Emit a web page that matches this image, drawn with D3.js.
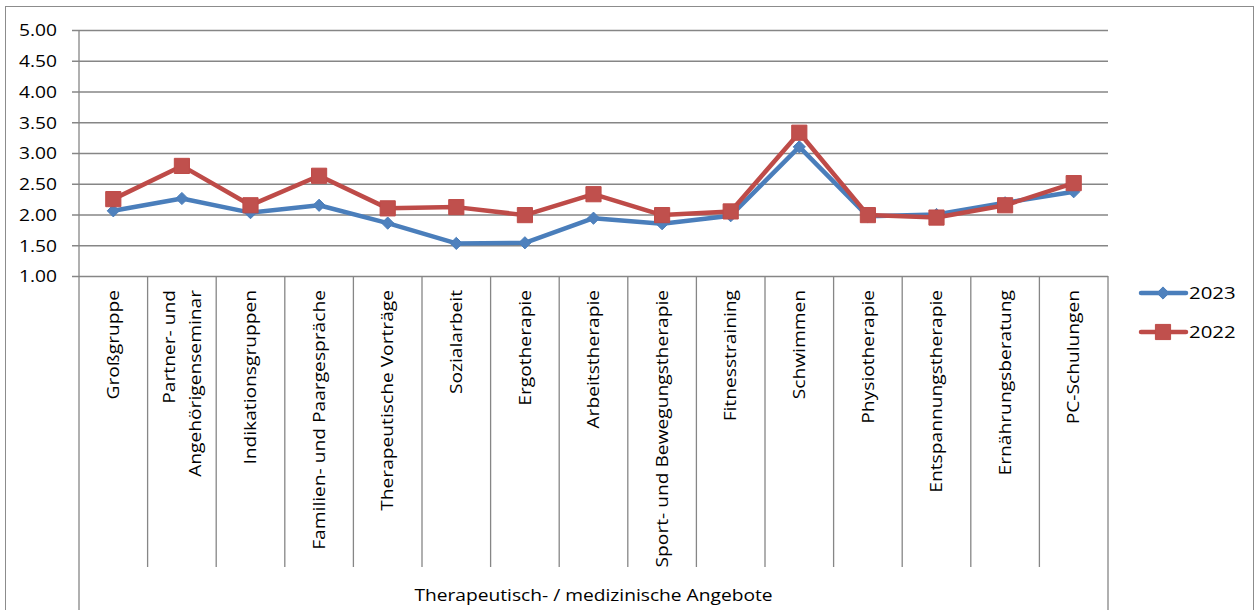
<!DOCTYPE html>
<html>
<head>
<meta charset="utf-8">
<script src="https://cdn.jsdelivr.net/npm/d3@7"></script>
<style>
  html, body { margin: 0; padding: 0; background: #fff; }
  svg { display: block; }
  text { font-family: "Open Sans", "Noto Sans", sans-serif; fill: #000; }
</style>
</head>
<body>
<svg id="chart" width="1255" height="610"></svg>
<script>
// ---- data ----
const categories = [
  "Großgruppe",
  "Partner- und\nAngehörigenseminar",
  "Indikationsgruppen",
  "Familien- und Paargespräche",
  "Therapeutische Vorträge",
  "Sozialarbeit",
  "Ergotherapie",
  "Arbeitstherapie",
  "Sport- und Bewegungstherapie",
  "Fitnesstraining",
  "Schwimmen",
  "Physiotherapie",
  "Entspannungstherapie",
  "Ernährungsberatung",
  "PC-Schulungen"
];
const values2023 = [2.06, 2.26, 2.03, 2.15, 1.86, 1.53, 1.54, 1.94, 1.85, 1.98, 3.10, 1.97, 2.00, 2.19, 2.37];
const values2022 = [2.25, 2.79, 2.15, 2.63, 2.10, 2.12, 1.99, 2.33, 1.99, 2.05, 3.33, 1.99, 1.95, 2.15, 2.51];
const yTicks = [1.00, 1.50, 2.00, 2.50, 3.00, 3.50, 4.00, 4.50, 5.00];
const groupLabel = "Therapeutisch- / medizinische Angebote";
const seriesNames = ["2023", "2022"];

// ---- layout ----
const W = 1255, H = 610;
const plotL = 79, plotR = 1108, plotT = 30, plotB = 276;
const catBottom = 567;
const FS = 16, SX = 1.2;
const GRID = "#868686";

const svg = d3.select("#chart");

// outer frame
svg.append("rect").attr("x", 5.5).attr("y", 6.5).attr("width", 1248).attr("height", 620)
  .attr("fill", "#fff").attr("stroke", "#8c8c8c").attr("stroke-width", 1);

const x = d3.scaleBand().domain(categories.map((c, i) => i)).range([plotL, plotR]).padding(0);
const y = d3.scaleLinear().domain([1, 5]).range([plotB, plotT]);

// y axis with gridlines
const yAxis = d3.axisLeft(y).tickValues(yTicks).tickSize(-(plotR - plotL + 7)).tickFormat(d3.format(".2f")).tickPadding(15);
const gy = svg.append("g").attr("transform", `translate(${plotL - 7},0)`).call(yAxis);
gy.select(".domain").remove();
gy.selectAll(".tick line").attr("stroke", GRID).attr("stroke-width", 1.3);
gy.selectAll(".tick text")
  .attr("font-size", FS).attr("font-family", '"Open Sans", sans-serif').attr("fill", "#000")
  .attr("dy", "0.36em")
  .attr("transform", function() { const xx = +d3.select(this).attr("x"); d3.select(this).attr("x", 0); return `translate(${xx},0) scale(${SX},1)`; });

// vertical axis line
svg.append("line").attr("x1", plotL).attr("x2", plotL).attr("y1", plotT).attr("y2", H)
  .attr("stroke", GRID).attr("stroke-width", 1.3);
// right group boundary
svg.append("line").attr("x1", plotR).attr("x2", plotR).attr("y1", plotB).attr("y2", H)
  .attr("stroke", GRID).attr("stroke-width", 1.3);
// category dividers
svg.append("g").selectAll("line").data(categories.slice(1).map((c, i) => i + 1)).join("line")
  .attr("x1", d => x(d)).attr("x2", d => x(d)).attr("y1", plotB).attr("y2", catBottom)
  .attr("stroke", GRID).attr("stroke-width", 1.3);

// category labels
const lineGap = 26;
categories.forEach((c, i) => {
  const lines = c.split("\n");
  const cx = x(i) + x.bandwidth() / 2;
  lines.forEach((ln, j) => {
    const off = (j - (lines.length - 1) / 2) * lineGap;
    svg.append("text")
      .attr("transform", `translate(${cx + off},290) rotate(-90) scale(${SX},1)`)
      .attr("text-anchor", "end").attr("dy", "0.36em")
      .attr("font-size", FS).text(ln);
  });
});

// group label
svg.append("text")
  .attr("transform", `translate(${(plotL + plotR) / 2},601) scale(${SX},1)`)
  .attr("text-anchor", "middle").attr("font-size", FS).text(groupLabel);

// series
const series = [
  { name: seriesNames[0], values: values2023, line: "#4A7EBB", fill: "#4F81BD", shape: "diamond" },
  { name: seriesNames[1], values: values2022, line: "#BE4B48", fill: "#C0504D", shape: "square" }
];
const line = d3.line().x((d, i) => x(i) + x.bandwidth() / 2).y(d => y(d));
const sym = {
  diamond: d3.symbol().type(d3.symbolDiamond2).size(95),
  square: d3.symbol().type(d3.symbolSquare).size(230)
};

series.forEach(s => {
  const g = svg.append("g");
  g.append("path").attr("d", line(s.values)).attr("fill", "none")
    .attr("stroke", s.line).attr("stroke-width", 4.5).attr("stroke-linejoin", "round").attr("stroke-linecap", "round");
  g.selectAll("path.m").data(s.values).join("path").attr("class", "m")
    .attr("d", sym[s.shape])
    .attr("transform", (d, i) => `translate(${x(i) + x.bandwidth() / 2},${y(d)})`)
    .attr("fill", s.fill).attr("stroke", s.line).attr("stroke-width", 1);
});

// legend
const legY = [293, 332];
series.forEach((s, k) => {
  const g = svg.append("g").attr("transform", `translate(0,${legY[k]})`);
  g.append("line").attr("x1", 1141).attr("x2", 1186).attr("y1", 0).attr("y2", 0)
    .attr("stroke", s.line).attr("stroke-width", 4.5).attr("stroke-linecap", "round");
  g.append("path").attr("d", sym[s.shape]).attr("transform", "translate(1163,0)")
    .attr("fill", s.fill).attr("stroke", s.line).attr("stroke-width", 1);
  g.append("text").attr("transform", `translate(1189,0) scale(${SX},1)`).attr("dy", "0.36em")
    .attr("font-size", FS + 1).text(s.name);
});
</script>
</body>
</html>
